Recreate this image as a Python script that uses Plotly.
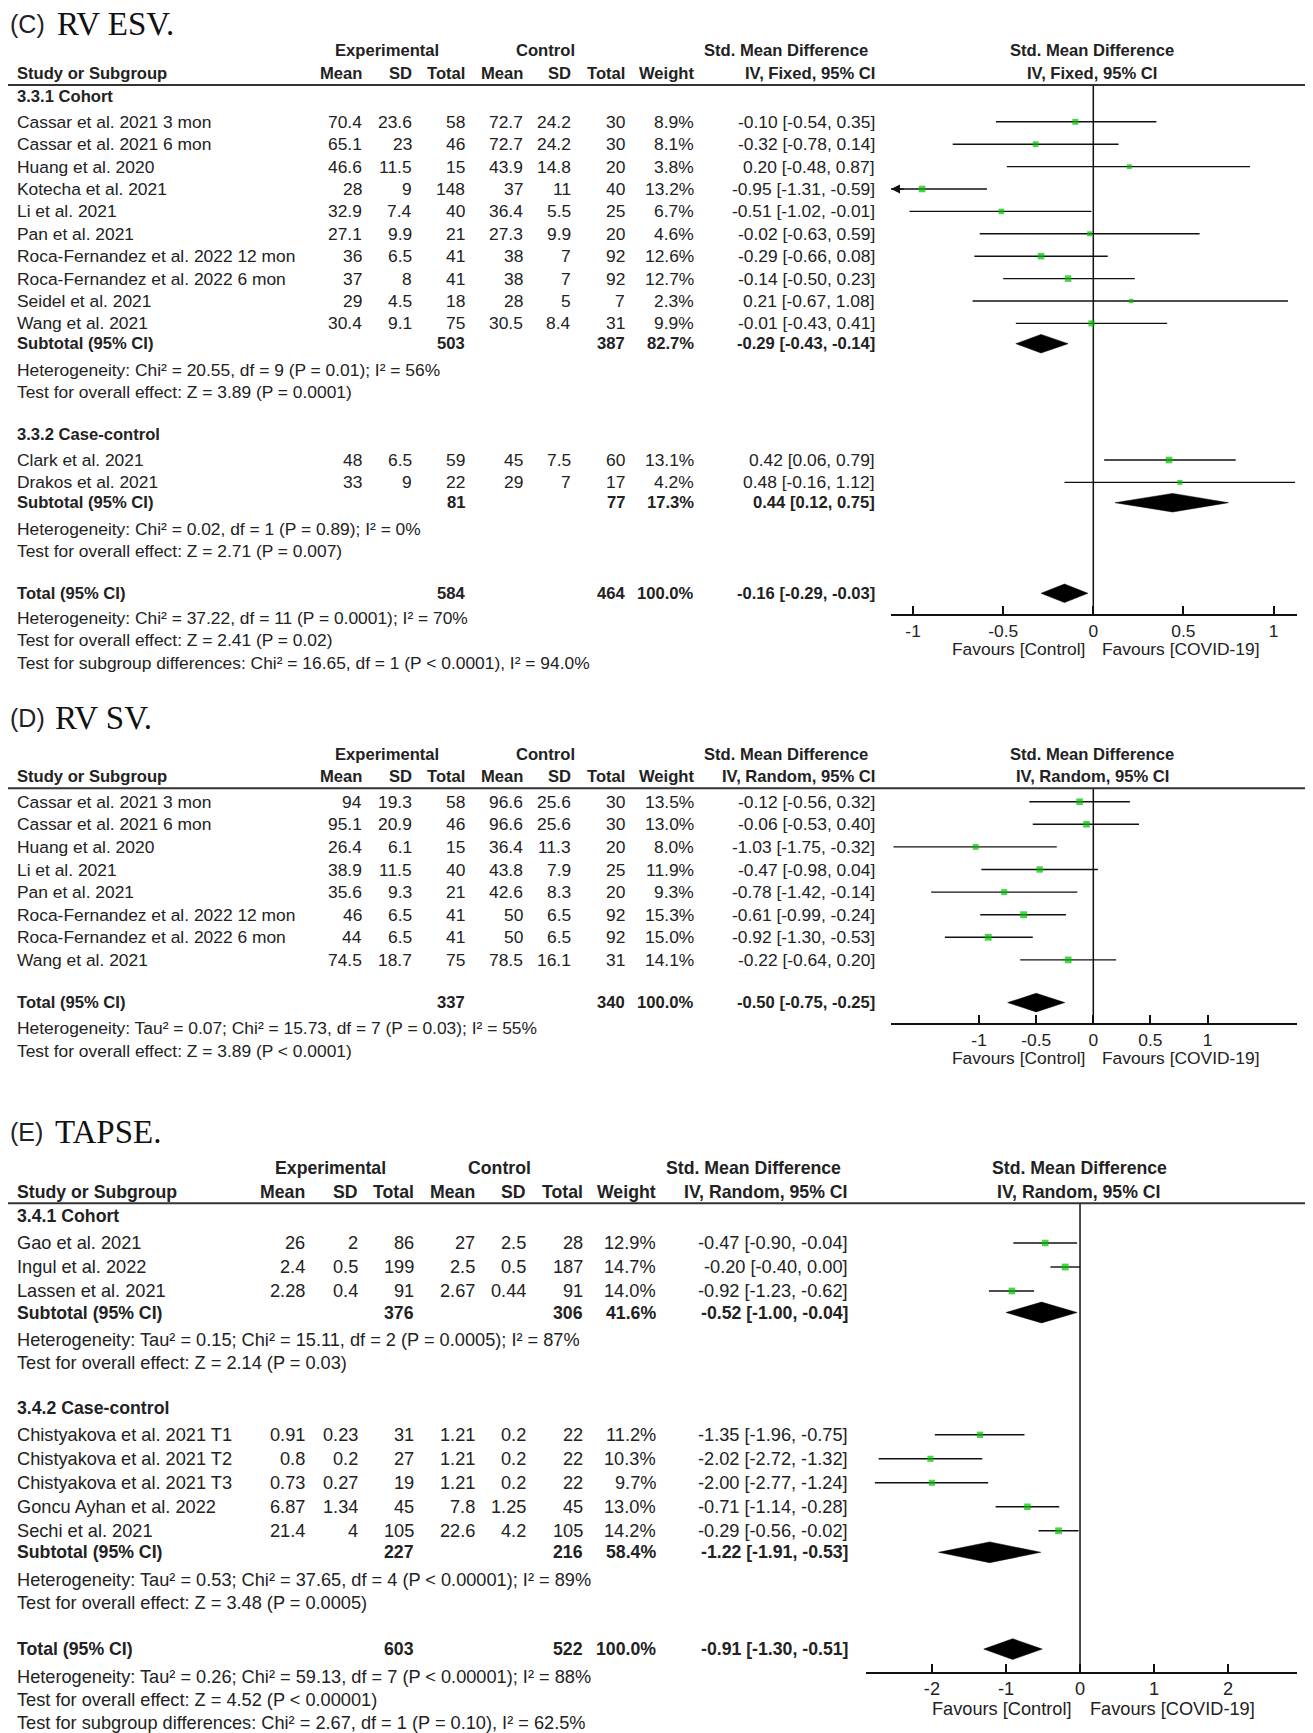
import math
import plotly.graph_objects as go

W, H = 1313, 1733
OFF = 8  # page body margin of the html page
SANS = "Liberation Sans, Arial, sans-serif"
SERIF = "Liberation Serif, Times New Roman, serif"
INK = "#222222"
GREEN = "#00c000"

# ================= (C) RV ESV =================
c_g1_label = "3.3.1 Cohort"
c_g1_studies = ["Cassar et al. 2021 3 mon", "Cassar et al. 2021 6 mon", "Huang et al. 2020",
                "Kotecha et al. 2021", "Li et al. 2021", "Pan et al. 2021",
                "Roca-Fernandez et al. 2022 12 mon", "Roca-Fernandez et al. 2022 6 mon",
                "Seidel et al. 2021", "Wang et al. 2021"]
c_g1_exp_mean = [70.4, 65.1, 46.6, 28, 32.9, 27.1, 36, 37, 29, 30.4]
c_g1_exp_sd = [23.6, 23, 11.5, 9, 7.4, 9.9, 6.5, 8, 4.5, 9.1]
c_g1_exp_n = [58, 46, 15, 148, 40, 21, 41, 41, 18, 75]
c_g1_ctl_mean = [72.7, 72.7, 43.9, 37, 36.4, 27.3, 38, 38, 28, 30.5]
c_g1_ctl_sd = [24.2, 24.2, 14.8, 11, 5.5, 9.9, 7, 7, 5, 8.4]
c_g1_ctl_n = [30, 30, 20, 40, 25, 20, 92, 92, 7, 31]
c_g1_weight = [8.9, 8.1, 3.8, 13.2, 6.7, 4.6, 12.6, 12.7, 2.3, 9.9]
c_g1_smd = [-0.10, -0.32, 0.20, -0.95, -0.51, -0.02, -0.29, -0.14, 0.21, -0.01]
c_g1_lo = [-0.54, -0.78, -0.48, -1.31, -1.02, -0.63, -0.66, -0.50, -0.67, -0.43]
c_g1_hi = [0.35, 0.14, 0.87, -0.59, -0.01, 0.59, 0.08, 0.23, 1.08, 0.41]
c_g1_subtotal = [503, 387, 82.7, -0.29, -0.43, -0.14]
c_g1_het = "Heterogeneity: Chi² = 20.55, df = 9 (P = 0.01); I² = 56%"
c_g1_test = "Test for overall effect: Z = 3.89 (P = 0.0001)"

c_g2_label = "3.3.2 Case-control"
c_g2_studies = ["Clark et al. 2021", "Drakos et al. 2021"]
c_g2_exp_mean = [48, 33]
c_g2_exp_sd = [6.5, 9]
c_g2_exp_n = [59, 22]
c_g2_ctl_mean = [45, 29]
c_g2_ctl_sd = [7.5, 7]
c_g2_ctl_n = [60, 17]
c_g2_weight = [13.1, 4.2]
c_g2_smd = [0.42, 0.48]
c_g2_lo = [0.06, -0.16]
c_g2_hi = [0.79, 1.12]
c_g2_subtotal = [81, 77, 17.3, 0.44, 0.12, 0.75]
c_g2_het = "Heterogeneity: Chi² = 0.02, df = 1 (P = 0.89); I² = 0%"
c_g2_test = "Test for overall effect: Z = 2.71 (P = 0.007)"

c_total = [584, 464, 100.0, -0.16, -0.29, -0.03]
c_total_het = "Heterogeneity: Chi² = 37.22, df = 11 (P = 0.0001); I² = 70%"
c_total_test = "Test for overall effect: Z = 2.41 (P = 0.02)"
c_subgroup_test = "Test for subgroup differences: Chi² = 16.65, df = 1 (P &lt; 0.0001), I² = 94.0%"
c_ticks = [-1, -0.5, 0, 0.5, 1]
c_ticklabels = ["-1", "-0.5", "0", "0.5", "1"]

# ================= (D) RV SV =================
d_studies = ["Cassar et al. 2021 3 mon", "Cassar et al. 2021 6 mon", "Huang et al. 2020",
             "Li et al. 2021", "Pan et al. 2021", "Roca-Fernandez et al. 2022 12 mon",
             "Roca-Fernandez et al. 2022 6 mon", "Wang et al. 2021"]
d_exp_mean = [94, 95.1, 26.4, 38.9, 35.6, 46, 44, 74.5]
d_exp_sd = [19.3, 20.9, 6.1, 11.5, 9.3, 6.5, 6.5, 18.7]
d_exp_n = [58, 46, 15, 40, 21, 41, 41, 75]
d_ctl_mean = [96.6, 96.6, 36.4, 43.8, 42.6, 50, 50, 78.5]
d_ctl_sd = [25.6, 25.6, 11.3, 7.9, 8.3, 6.5, 6.5, 16.1]
d_ctl_n = [30, 30, 20, 25, 20, 92, 92, 31]
d_weight = [13.5, 13.0, 8.0, 11.9, 9.3, 15.3, 15.0, 14.1]
d_smd = [-0.12, -0.06, -1.03, -0.47, -0.78, -0.61, -0.92, -0.22]
d_lo = [-0.56, -0.53, -1.75, -0.98, -1.42, -0.99, -1.30, -0.64]
d_hi = [0.32, 0.40, -0.32, 0.04, -0.14, -0.24, -0.53, 0.20]
d_total = [337, 340, 100.0, -0.50, -0.75, -0.25]
d_total_het = "Heterogeneity: Tau² = 0.07; Chi² = 15.73, df = 7 (P = 0.03); I² = 55%"
d_total_test = "Test for overall effect: Z = 3.89 (P &lt; 0.0001)"
d_ticks = [-1, -0.5, 0, 0.5, 1]
d_ticklabels = ["-1", "-0.5", "0", "0.5", "1"]

# ================= (E) TAPSE =================
e_g1_label = "3.4.1 Cohort"
e_g1_studies = ["Gao et al. 2021", "Ingul et al. 2022", "Lassen et al. 2021"]
e_g1_exp_mean = [26, 2.4, 2.28]
e_g1_exp_sd = [2, 0.5, 0.4]
e_g1_exp_n = [86, 199, 91]
e_g1_ctl_mean = [27, 2.5, 2.67]
e_g1_ctl_sd = [2.5, 0.5, 0.44]
e_g1_ctl_n = [28, 187, 91]
e_g1_weight = [12.9, 14.7, 14.0]
e_g1_smd = [-0.47, -0.20, -0.92]
e_g1_lo = [-0.90, -0.40, -1.23]
e_g1_hi = [-0.04, 0.00, -0.62]
e_g1_subtotal = [376, 306, 41.6, -0.52, -1.00, -0.04]
e_g1_het = "Heterogeneity: Tau² = 0.15; Chi² = 15.11, df = 2 (P = 0.0005); I² = 87%"
e_g1_test = "Test for overall effect: Z = 2.14 (P = 0.03)"

e_g2_label = "3.4.2 Case-control"
e_g2_studies = ["Chistyakova et al. 2021 T1", "Chistyakova et al. 2021 T2",
                "Chistyakova et al. 2021 T3", "Goncu Ayhan et al. 2022", "Sechi et al. 2021"]
e_g2_exp_mean = [0.91, 0.8, 0.73, 6.87, 21.4]
e_g2_exp_sd = [0.23, 0.2, 0.27, 1.34, 4]
e_g2_exp_n = [31, 27, 19, 45, 105]
e_g2_ctl_mean = [1.21, 1.21, 1.21, 7.8, 22.6]
e_g2_ctl_sd = [0.2, 0.2, 0.2, 1.25, 4.2]
e_g2_ctl_n = [22, 22, 22, 45, 105]
e_g2_weight = [11.2, 10.3, 9.7, 13.0, 14.2]
e_g2_smd = [-1.35, -2.02, -2.00, -0.71, -0.29]
e_g2_lo = [-1.96, -2.72, -2.77, -1.14, -0.56]
e_g2_hi = [-0.75, -1.32, -1.24, -0.28, -0.02]
e_g2_subtotal = [227, 216, 58.4, -1.22, -1.91, -0.53]
e_g2_het = "Heterogeneity: Tau² = 0.53; Chi² = 37.65, df = 4 (P &lt; 0.00001); I² = 89%"
e_g2_test = "Test for overall effect: Z = 3.48 (P = 0.0005)"

e_total = [603, 522, 100.0, -0.91, -1.30, -0.51]
e_total_het = "Heterogeneity: Tau² = 0.26; Chi² = 59.13, df = 7 (P &lt; 0.00001); I² = 88%"
e_total_test = "Test for overall effect: Z = 4.52 (P &lt; 0.00001)"
e_subgroup_test = "Test for subgroup differences: Chi² = 2.67, df = 1 (P = 0.10), I² = 62.5%"
e_ticks = [-2, -1, 0, 1, 2]
e_ticklabels = ["-2", "-1", "0", "1", "2"]


def group(label, studies, em, es, en, cm, cs, cn, w, smd, lo, hi, sub=None, het=None, test=None):
    return dict(label=label, studies=studies, em=em, es=es, en=en, cm=cm, cs=cs, cn=cn,
                w=w, smd=smd, lo=lo, hi=hi, sub=sub, het=het, test=test)


cols_cd = dict(label=16, em=362.8, es=412.5, en=466, cm=524, cs=572.4, cn=625.8, w=695, ci=876,
               exp_c=386.8, ctl_c=545.7, smd_hdr=869, forest_c=1092,
               fav_l=1086, fav_r=1101)
cols_e = dict(label=16, em=306, es=358.6, en=414.6, cm=475.6, cs=527, cn=583.8, w=657.4, ci=849.4,
              exp_c=330.4, ctl_c=499.8, smd_hdr=842, forest_c=1079,
              fav_l=1072.6, fav_r=1088.5)

steps_c = dict(hdr1=34.3, hdr2=12, line_to_label=11.3, label_to_study=25.5, study=22.4,
               study_to_sub=20.3, sub_to_het=26, het_to_test=22.3, test_to_next=42.5,
               test_to_total=42.3, total_to_het=24.5, test_to_subgrp=22.7, total_to_axis=21.7,
               line_to_study=13.4, study_to_total=42.7, fav_gap=34, dia=9.3)
steps_d = dict(steps_c, study=22.6, total_to_het=25.6, het_to_test=22.7, total_to_axis=21.3)
steps_e = dict(hdr1=35, hdr2=11.6, line_to_label=12.7, label_to_study=27, study=24,
               study_to_sub=21.5, sub_to_het=27.5, het_to_test=23.3, test_to_next=44.5,
               test_to_total=46, total_to_het=27.7, test_to_subgrp=23.3, total_to_axis=23.4,
               line_to_study=14, study_to_total=46, fav_gap=36.6, dia=10.4)

panels = [
    dict(tag="(C)", title="RV ESV.", title_y=24, tag_x=8.5, title_x=56,
         line_y=85, xaxis="x", domain=(891, 1297), range=(-1.1226, 1.1304),
         ticks=c_ticks, ticklabels=c_ticklabels, method="IV, Fixed, 95% CI",
         fs=17.4, fb=16.6, cols=cols_cd, steps=steps_c,
         groups=[group(c_g1_label, c_g1_studies, c_g1_exp_mean, c_g1_exp_sd, c_g1_exp_n,
                       c_g1_ctl_mean, c_g1_ctl_sd, c_g1_ctl_n, c_g1_weight, c_g1_smd, c_g1_lo,
                       c_g1_hi, c_g1_subtotal, c_g1_het, c_g1_test),
                 group(c_g2_label, c_g2_studies, c_g2_exp_mean, c_g2_exp_sd, c_g2_exp_n,
                       c_g2_ctl_mean, c_g2_ctl_sd, c_g2_ctl_n, c_g2_weight, c_g2_smd, c_g2_lo,
                       c_g2_hi, c_g2_subtotal, c_g2_het, c_g2_test)],
         total=c_total, total_het=c_total_het, total_test=c_total_test,
         subgroup=c_subgroup_test),
    dict(tag="(D)", title="RV SV.", title_y=717.5, tag_x=8.5, title_x=54,
         line_y=788.3, xaxis="x2", domain=(891, 1297), range=(-1.7715, 1.7837),
         ticks=d_ticks, ticklabels=d_ticklabels, method="IV, Random, 95% CI",
         fs=17.4, fb=16.6, cols=cols_cd, steps=steps_d,
         groups=[group(None, d_studies, d_exp_mean, d_exp_sd, d_exp_n, d_ctl_mean, d_ctl_sd,
                       d_ctl_n, d_weight, d_smd, d_lo, d_hi)],
         total=d_total, total_het=d_total_het, total_test=d_total_test, subgroup=None),
    dict(tag="(E)", title="TAPSE.", title_y=1131.7, tag_x=8.5, title_x=54,
         line_y=1203.3, xaxis="x3", domain=(866, 1297), range=(-2.890, 2.930),
         ticks=e_ticks, ticklabels=e_ticklabels, method="IV, Random, 95% CI",
         fs=18.2, fb=17.7, cols=cols_e, steps=steps_e,
         groups=[group(e_g1_label, e_g1_studies, e_g1_exp_mean, e_g1_exp_sd, e_g1_exp_n,
                       e_g1_ctl_mean, e_g1_ctl_sd, e_g1_ctl_n, e_g1_weight, e_g1_smd, e_g1_lo,
                       e_g1_hi, e_g1_subtotal, e_g1_het, e_g1_test),
                 group(e_g2_label, e_g2_studies, e_g2_exp_mean, e_g2_exp_sd, e_g2_exp_n,
                       e_g2_ctl_mean, e_g2_ctl_sd, e_g2_ctl_n, e_g2_weight, e_g2_smd, e_g2_lo,
                       e_g2_hi, e_g2_subtotal, e_g2_het, e_g2_test)],
         total=e_total, total_het=e_total_het, total_test=e_total_test,
         subgroup=e_subgroup_test),
]

fig = go.Figure()
annotations = []
shapes = []
layout_axes = {}


def px(x):
    """page pixel -> paper fraction (figure sits OFF px inside the page)."""
    return (x - OFF) / W


def add_text(x, y, s, size, anchor="left", bold=False, family=SANS, color=INK):
    annotations.append(dict(
        x=px(x), y=y, xref="paper", yref="y",
        text=f"<b>{s}</b>" if bold else s, showarrow=False,
        xanchor=anchor, yanchor="middle", borderpad=0,
        font=dict(family=family, size=size, color=color)))


def fmt_ci(m, lo, hi):
    return f"{m:.2f} [{lo:.2f}, {hi:.2f}]"


def square_size(w):
    return 2.8 + 1.05 * math.sqrt(w)


def draw_panel(P):
    c, s = P["cols"], P["steps"]
    fs, fb = P["fs"], P["fb"]
    xa = P["xaxis"]
    rmin, rmax = P["range"]
    line_y = P["line_y"]

    add_text(P["tag_x"], P["title_y"], P["tag"], 25)
    add_text(P["title_x"], P["title_y"], P["title"], 33, family=SERIF, color="#111")

    y1, y2 = line_y - s["hdr1"], line_y - s["hdr2"]
    add_text(c["exp_c"], y1, "Experimental", fb, "center", True)
    add_text(c["ctl_c"], y1, "Control", fb, "center", True)
    add_text(c["smd_hdr"], y1, "Std. Mean Difference", fb, "right", True)
    add_text(c["forest_c"], y1, "Std. Mean Difference", fb, "center", True)
    add_text(c["label"], y2, "Study or Subgroup", fb, "left", True)
    for key, name in [("em", "Mean"), ("es", "SD"), ("en", "Total"), ("cm", "Mean"),
                      ("cs", "SD"), ("cn", "Total"), ("w", "Weight")]:
        add_text(c[key], y2, name, fb, "right", True)
    add_text(c["ci"], y2, P["method"], fb, "right", True)
    add_text(c["forest_c"], y2, P["method"], fb, "center", True)
    shapes.append(dict(type="line", xref="paper", yref="y", x0=0, x1=1,
                       y0=line_y, y1=line_y, line=dict(color="#333", width=2)))

    ci_x, ci_y, sq_x, sq_y, sq_s, dia_x, dia_y = [], [], [], [], [], [], []

    def summary(y, label, vals):
        en, cn, w, m, lo, hi = vals
        add_text(c["label"], y, label, fb, "left", True)
        add_text(c["en"], y, str(en), fb, "right", True)
        add_text(c["cn"], y, str(cn), fb, "right", True)
        add_text(c["w"], y, f"{w:.1f}%", fb, "right", True)
        add_text(c["ci"], y, fmt_ci(m, lo, hi), fb, "right", True)
        h = s["dia"]
        dia_x.extend([lo, m, hi, m, lo, None])
        dia_y.extend([y, y - h, y, y + h, y, None])

    y = line_y
    prev = "line"
    for g in P["groups"]:
        if g["label"] is not None:
            y += s["line_to_label"] if prev == "line" else s["test_to_next"]
            add_text(c["label"], y, g["label"], fb, "left", True)
            y += s["label_to_study"]
        else:
            y += s["line_to_study"]
        for i, name in enumerate(g["studies"]):
            if i:
                y += s["study"]
            add_text(c["label"], y, name, fs)
            for key in ["em", "es", "en", "cm", "cs", "cn"]:
                add_text(c[key], y, str(g[key][i]), fs, "right")
            add_text(c["w"], y, f"{g['w'][i]:.1f}%", fs, "right")
            add_text(c["ci"], y, fmt_ci(g["smd"][i], g["lo"][i], g["hi"][i]), fs, "right")
            lo, hi = max(g["lo"][i], rmin), min(g["hi"][i], rmax)
            ci_x.extend([lo, hi, None])
            ci_y.extend([y, y, None])
            for val, lim, sign in [(g["lo"][i], rmin, 1), (g["hi"][i], rmax, -1)]:
                if (sign == 1 and val < lim) or (sign == -1 and val > lim):
                    annotations.append(dict(
                        x=lim, y=y, xref=xa, yref="y", ax=lim + sign * 0.035 * (rmax - rmin),
                        ay=y, axref=xa, ayref="y", text="", showarrow=True, arrowhead=2,
                        arrowsize=1.2, arrowwidth=1.5, arrowcolor="#111"))
            sq_x.append(g["smd"][i])
            sq_y.append(y)
            sq_s.append(square_size(g["w"][i]))
        prev = "study"
        if g["sub"] is not None:
            y += s["study_to_sub"]
            summary(y, "Subtotal (95% CI)", g["sub"])
            y += s["sub_to_het"]
            add_text(c["label"], y, g["het"], fs)
            y += s["het_to_test"]
            add_text(c["label"], y, g["test"], fs)
            prev = "test"

    y += s["test_to_total"] if prev == "test" else s["study_to_total"]
    summary(y, "Total (95% CI)", P["total"])
    axis_y = y + s["total_to_axis"]
    y += s["total_to_het"]
    add_text(c["label"], y, P["total_het"], fs)
    y += s["het_to_test"]
    add_text(c["label"], y, P["total_test"], fs)
    if P["subgroup"]:
        y += s["test_to_subgrp"]
        add_text(c["label"], y, P["subgroup"], fs)

    add_text(c["fav_l"], axis_y + s["fav_gap"], "Favours [Control]", fs, "right")
    add_text(c["fav_r"], axis_y + s["fav_gap"], "Favours [COVID-19]", fs, "left")

    fig.add_trace(go.Scatter(x=ci_x, y=ci_y, mode="lines", xaxis=xa, yaxis="y",
                             line=dict(color="#111", width=1.4), hoverinfo="skip"))
    fig.add_trace(go.Scatter(x=[0, 0], y=[line_y, axis_y], mode="lines", xaxis=xa, yaxis="y",
                             line=dict(color="#111", width=1.5), hoverinfo="skip"))
    fig.add_trace(go.Scatter(x=sq_x, y=sq_y, mode="markers", xaxis=xa, yaxis="y",
                             marker=dict(symbol="square", size=sq_s, color=GREEN,
                                         line=dict(width=0))))
    fig.add_trace(go.Scatter(x=dia_x, y=dia_y, mode="lines", fill="toself", fillcolor="#000",
                             xaxis=xa, yaxis="y", line=dict(color="#000", width=0.5),
                             hoverinfo="skip"))

    key = "xaxis" if xa == "x" else "xaxis" + xa[1:]
    layout_axes[key] = dict(
        domain=[px(P["domain"][0]), px(P["domain"][1])], range=list(P["range"]),
        anchor="free", position=1 - (axis_y - OFF) / H, side="bottom",
        showline=True, linecolor="#111", linewidth=2,
        ticks="inside", ticklen=8, tickwidth=2, tickcolor="#111",
        tickmode="array", tickvals=P["ticks"], ticktext=P["ticklabels"],
        tickfont=dict(family=SANS, size=fs, color=INK),
        showgrid=False, zeroline=False, fixedrange=True)


for P in panels:
    draw_panel(P)

fig.update_layout(
    width=W, height=H, autosize=False,
    margin=dict(l=0, r=0, t=0, b=0, pad=0),
    paper_bgcolor="white", plot_bgcolor="rgba(0,0,0,0)",
    showlegend=False, hovermode=False,
    yaxis=dict(domain=[0, 1], range=[H + OFF, OFF], visible=False, fixedrange=True),
    annotations=annotations, shapes=shapes,
    **layout_axes,
)

fig.write_html("out.html")
